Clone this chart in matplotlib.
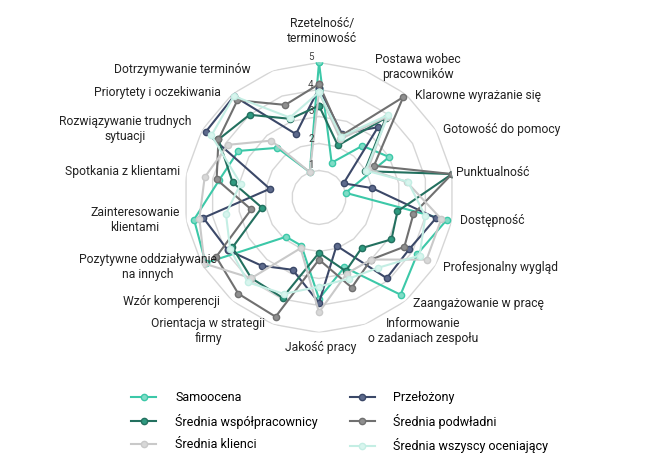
import numpy as np
import matplotlib
matplotlib.use("Agg")
import matplotlib.pyplot as plt
import matplotlib.transforms as mtrans
from matplotlib.lines import Line2D

plt.rcParams['font.family'] = ['Roboto', 'DejaVu Sans']

categories = [
    "Rzetelność/\nterminowość", "Postawa wobec\npracowników", "Klarowne wyrażanie się",
    "Gotowość do pomocy", "Punktualność", "Dostępność", "Profesjonalny wygląd",
    "Zaangażowanie w pracę", "Informowanie\no zadaniach zespołu", "Jakość pracy",
    "Orientacja w strategii\nfirmy", "Wzór komperencji", "Pozytywne oddziaływanie\nna innych",
    "Zainteresowanie\nklientami", "Spotkania z klientami", "Rozwiązywanie trudnych\nsytuacji",
    "Priorytety i oczekiwania", "Dotrzymywanie terminów",
]

samoocena      = [5.0, 1.37, 2.5, 3.0, 1.0, 4.8, 4.2, 4.7, 2.75, 3.75, 1.9, 1.9, 4.85, 4.7, 3.75, 3.45, 2.4, 1.0]
przelozony     = [4.05, 2.5, 3.4, 1.05, 2.0, 4.4, 3.85, 3.9, 1.9, 3.9, 2.85, 3.3, 3.9, 4.35, 1.85, 4.85, 4.9, 2.5]
wspolprac      = [3.4, 2.05, 3.85, 1.95, 5.0, 2.95, 3.1, 2.45, 2.9, 2.05, 3.95, 3.9, 3.7, 2.15, 3.25, 4.3, 4.0, 3.1]
podwladni      = [4.2, 2.45, 4.85, 2.35, 5.0, 3.55, 3.65, 3.0, 3.55, 2.3, 4.7, 4.65, 4.4, 2.55, 3.85, 4.3, 4.7, 3.65]
klienci        = [3.9, 2.3, 3.9, 2.1, 3.3, 4.6, 4.6, 3.0, 3.0, 4.25, 2.0, 3.9, 4.9, 4.5, 4.3, 3.9, 2.75, 1.0]
wszyscy        = [3.9, 2.4, 4.0, 2.0, 3.35, 4.0, 4.3, 3.4, 3.2, 3.3, 3.8, 4.1, 3.8, 3.5, 2.95, 4.6, 4.9, 3.15]

series_names = ["Samoocena", "Przełożony", "Średnia współpracownicy",
                "Średnia podwładni", "Średnia klienci", "Średnia wszyscy oceniający"]
series_vals = [samoocena, przelozony, wspolprac, podwladni, klienci, wszyscy]
line_colors = ["#3cc8a8", "#3b4868", "#23705f", "#707070", "#c9c9c9", "#c4eee4"]
face_colors = ["#7fdcc6", "#5d6a8c", "#2f9a80", "#8f8f8f", "#d8d8d8", "#d8f5ee"]
draw_order = [4, 5, 3, 2, 1, 0]

radial_ticks = [1, 2, 3, 4, 5]

label_pos = [
    (322, 31, 'center'), (418, 67, 'center'), (415, 95, 'left'), (443, 129, 'left'),
    (456, 172, 'left'), (460, 221, 'left'), (443, 267, 'left'), (413, 303, 'left'),
    (423, 331, 'center'), (321, 348, 'center'), (208, 331, 'center'), (220, 301, 'right'),
    (148, 267, 'center'), (135, 220, 'center'), (180, 172, 'right'), (125, 129, 'center'),
    (221, 93, 'right'), (251, 70, 'right'),
]

W, H = 668, 474
fig = plt.figure(figsize=(W / 100, H / 100), dpi=100)
cx, cy, R = 319, 197.5, 135
ax = fig.add_axes([(cx - R) / W, (H - cy - R) / H, 2 * R / W, 2 * R / H], projection='polar')
ax.set_theta_zero_location('N')
ax.set_theta_direction(-1)
ax.set_ylim(0, 5)
ax.grid(False)
ax.spines['polar'].set_visible(False)
ax.set_xticks([])
ax.set_yticks([])

n = len(categories)
theta = np.arange(n) * 2 * np.pi / n
theta_c = np.append(theta, theta[0])

tick_tr = mtrans.offset_copy(ax.transData, fig=fig, x=-8, y=5, units='dots')
for t in radial_ticks:
    ax.plot(theta_c, [t] * (n + 1), color="#d6d6d6", lw=1.0, zorder=1)
    ax.text(0, t, str(t), transform=tick_tr, ha='center', va='center',
            fontsize=7, color="#444444", zorder=10)

for i in draw_order:
    v = series_vals[i]
    ax.plot(theta_c, list(v) + [v[0]], color=line_colors[i], lw=1.5,
            marker='o', ms=4.5, mfc=face_colors[i], mec=line_colors[i], mew=1.0, zorder=3 + i * 0.1)

for (px, py, ha), lab in zip(label_pos, categories):
    fig.text(px / W, 1 - py / H, lab, ha=ha, va='center', fontsize=8.7, color="#222222",
             linespacing=1.12, multialignment='center')

order = [0, 2, 4, 1, 3, 5]
handles = [Line2D([0], [0], color=line_colors[i], lw=1.5, marker='o', ms=4.5,
                  mfc=face_colors[i], mec=line_colors[i]) for i in order]
labels = [series_names[i] for i in order]
leg = fig.legend(handles, labels, loc='upper left', bbox_to_anchor=(120 / W, 1 - 380 / H),
                 ncol=2, frameon=False, fontsize=9, handlelength=2.0, handletextpad=1.5,
                 columnspacing=2.55, labelspacing=0.75)

fig.savefig("out.png", dpi=100)
